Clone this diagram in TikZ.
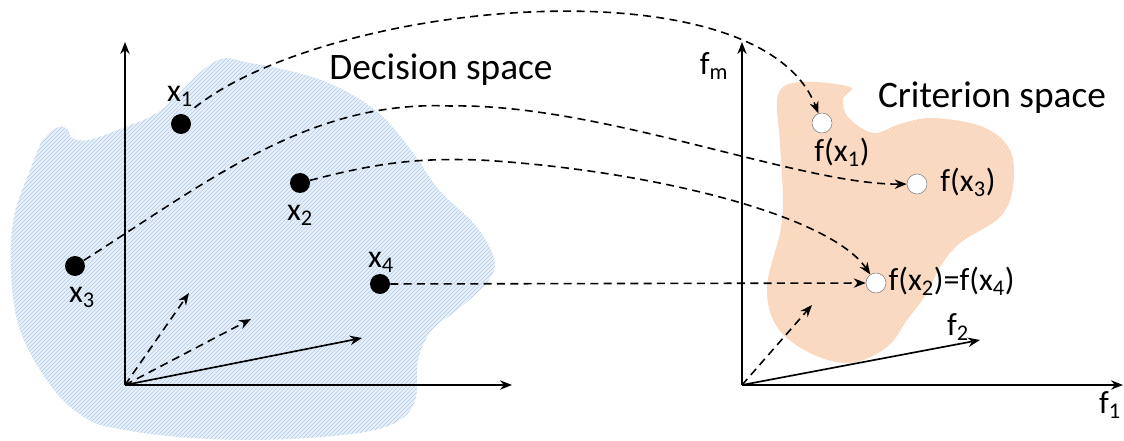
\documentclass[tikz,border=0pt]{standalone}
\usepackage{fontspec}
\setmainfont{Carlito}
\usetikzlibrary{arrows.meta,patterns}
\definecolor{decblue}{RGB}{232,241,250}
\definecolor{hatchblue}{RGB}{176,204,232}
\definecolor{critorange}{RGB}{250,214,188}
\tikzset{
  dot/.style={circle, fill=black, inner sep=0pt, minimum size=15pt},
  image/.style={circle, draw=gray, fill=white, inner sep=0pt, minimum size=15pt},
  lbl/.style={font=\fontsize{24}{28}\selectfont, inner sep=1pt},
  title/.style={font=\fontsize{28}{34}\selectfont},
  axis/.style={line width=1.25pt, ->},
  map/.style={line width=1.2pt, dash pattern=on 6pt off 4pt, ->},
}
\begin{document}
\begin{tikzpicture}[>={Stealth[length=9pt,width=7pt]}, x=0.75pt, y=-0.75pt]
\useasboundingbox (0,0) rectangle (1124,441);
% decision space region
\fill[decblue] plot[smooth cycle, tension=0.6] coordinates {(214,62) (250,63) (321,80) (375,110) (411,150) (439,190) (475,225) (494,258) (489,280) (461,307) (432,330) (418,360) (416,397) (404,417) (375,430) (321,437) (250,440) (179,437) (125,430) (89,420) (54,390) (21,333) (11,273) (14,217) (29,173) (43,140) (59,127) (68,130) (72,138) (89,140) (125,127) (161,110)};
\path[pattern=north east lines, pattern color=hatchblue] plot[smooth cycle, tension=0.6] coordinates {(214,62) (250,63) (321,80) (375,110) (411,150) (439,190) (475,225) (494,258) (489,280) (461,307) (432,330) (418,360) (416,397) (404,417) (375,430) (321,437) (250,440) (179,437) (125,430) (89,420) (54,390) (21,333) (11,273) (14,217) (29,173) (43,140) (59,127) (68,130) (72,138) (89,140) (125,127) (161,110)};
% criterion space region
\fill[critorange] plot[smooth cycle, tension=0.6] coordinates {(800,82) (850,87) (843,99) (848,117) (873,133) (900,124) (933,118) (983,127) (1010,150) (1013,187) (1000,217) (960,243) (940,267) (927,293) (907,320) (887,347) (850,363) (810,353) (777,327) (767,287) (780,233) (783,200) (780,143) (778,95)};
\path[pattern=crosshatch dots, pattern color=white!70!critorange] plot[smooth cycle, tension=0.6] coordinates {(800,82) (850,87) (843,99) (848,117) (873,133) (900,124) (933,118) (983,127) (1010,150) (1013,187) (1000,217) (960,243) (940,267) (927,293) (907,320) (887,347) (850,363) (810,353) (777,327) (767,287) (780,233) (783,200) (780,143) (778,95)};

% axes
\coordinate (O1) at (125,385);
\coordinate (O2) at (742,385);
\draw[axis] (O1)--(125,42);
\draw[axis] (O1)--(512,385);
\draw[map] (O1)--(189,293);
\draw[map] (O1)--(251,319);
\draw[axis] (O1)--(362,338);
\draw[axis] (O2)--(742,42);
\draw[axis] (O2)--(1123,385);
\draw[map] (O2)--(812,305);
\draw[axis] (O2)--(980,340);
\node[lbl] (fm) at (714,66) {f\textsubscript{m}};
\node[lbl] (f1) at (1110,405) {f\textsubscript{1}};
\node[lbl] (f2) at (958,327) {f\textsubscript{2}};

\node[title] (dspace) at (441,70) {Decision space};
\node[title] (cspace) at (992,98) {Criterion space};

% points
\node[dot] (x1) at (181,124) {};
\node[dot] (x2) at (300,183) {};
\node[dot] (x3) at (75,266) {};
\node[dot] (x4) at (380,284) {};
\node[lbl] (x1l) at (180,96) {x\textsubscript{1}};
\node[lbl] (x2l) at (300,215) {x\textsubscript{2}};
\node[lbl] (x3l) at (82,297) {x\textsubscript{3}};
\node[lbl] (x4l) at (381,262) {x\textsubscript{4}};

\node[image] (fx1) at (822,123) {};
\node[image] (fx3) at (917,184) {};
\node[image] (fx2) at (876,283) {};
\node[lbl] (fx1l) at (842,152) {f(x\textsubscript{1})};
\node[lbl] (fx3l) at (968,182) {f(x\textsubscript{3})};
\node[lbl, anchor=west] (fx2l) at (887,281) {f(x\textsubscript{2})=f(x\textsubscript{4})};

% mappings
\draw[map] (x1l.south east) .. controls (330,0) and (760,-40) .. (fx1);
\draw[map] (x3) .. controls (210,180) and (310,100) .. (450,106) .. controls (600,103) and (800,185) .. (fx3);
\draw[map] (x2) .. controls (380,162) and (420,158) .. (480,160) .. controls (650,170) and (830,215) .. (fx2);
\draw[map] (x4)--(fx2);

\end{tikzpicture}
\end{document}
